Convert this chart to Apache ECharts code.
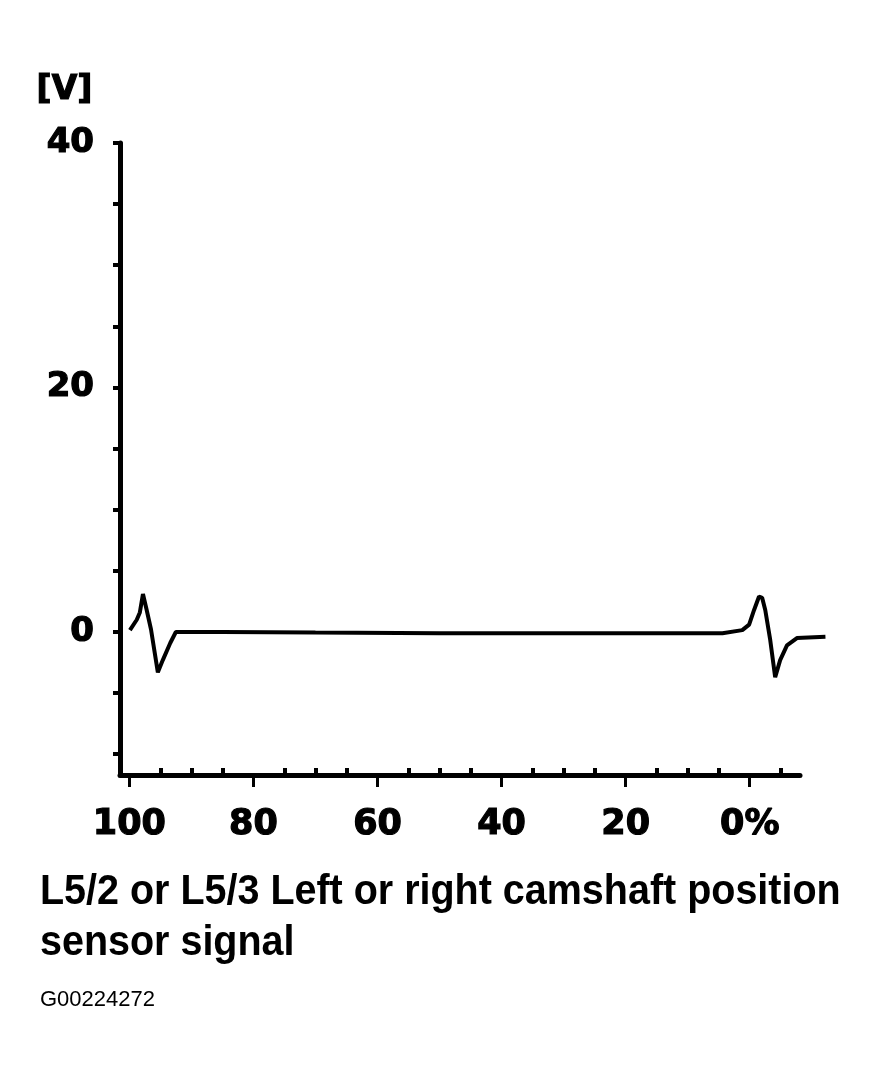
<!DOCTYPE html>
<html>
<head>
<meta charset="utf-8">
<script src="https://cdn.jsdelivr.net/npm/echarts@6/dist/echarts.min.js"></script>
<style>html,body{margin:0;padding:0;background:#fff;}#c{width:874px;height:1084px;}</style>
</head>
<body>
<div id="c"></div>
<script>
// Data
const xPercent = [99.9, 98.8, 98.3, 97.8, 97.2, 96.5, 95.4, 94.6, 93.4, 92.5, 85, 70, 50, 30, 10, 4.4, 1.2, 0.1, -0.7, -1.5, -2.0, -2.5, -3.3, -4.1, -4.9, -6.0, -7.6, -12.2];
const voltage  = [0.16, 1.0, 1.6, 3.1, 1.8, 0.2, -3.3, -2.3, -0.9, 0.0, 0.0, -0.05, -0.1, -0.1, -0.1, -0.1, 0.15, 0.6, 1.8, 2.9, 2.8, 1.8, -0.65, -3.7, -2.3, -1.1, -0.5, -0.4];
const yLabelValues = [0, 20, 40];
const yTickValues = [-10, -5, 0, 5, 10, 15, 20, 25, 30, 35, 40];
const xLabelValues = [100, 80, 60, 40, 20, 0];
const xMinorTicks = [95, 90, 85, 75, 70, 65, 55, 50, 45, 35, 30, 25, 15, 10, 5, -5];
const yUnit = '[V]';
const captionLine1 = 'L5/2 or L5/3 Left or right camshaft position';
const captionLine2 = 'sensor signal';
const figureId = 'G00224272';

// Axis ranges
const X_LEFT = 101.5, X_AXIS_END = -8.1, X_TRACE_END = -12.5;
const Y_MIN = -11.7, Y_MAX = 40;

const chart = echarts.init(document.getElementById('c'), null, {renderer: 'canvas'});
const seriesData = xPercent.map((x, i) => [x, voltage[i]]);
const labelFont = {color: '#000', fontFamily: 'DejaVu Sans', fontWeight: 'bold', textBorderColor: '#000', textBorderWidth: 1.2};

// grid 0 carries the visible axes; grid 1 has the same scale but runs further right so the trace can pass the axis end
const gridLeft = 120, gridRight0 = 74, W = 874;
const pxPerUnit = (W - gridLeft - gridRight0) / (X_LEFT - X_AXIS_END);
const gridRight1 = W - gridLeft - (X_LEFT - X_TRACE_END) * pxPerUnit;

chart.setOption({
  animation: false,
  backgroundColor: '#fff',
  grid: [
    {left: gridLeft, right: gridRight0, top: 143, bottom: 309, containLabel: false},
    {left: gridLeft, right: gridRight1, top: 143, bottom: 309, containLabel: false}
  ],
  xAxis: [{
    gridIndex: 0, type: 'value', inverse: true, min: X_AXIS_END, max: X_LEFT, position: 'bottom',
    axisLine: {show: true, onZero: false, lineStyle: {color: '#000', width: 5}},
    axisTick: {show: true, customValues: xLabelValues, length: 12, lineStyle: {color: '#000', width: 3}},
    axisLabel: Object.assign({customValues: xLabelValues, fontSize: 35, margin: 32,
      formatter: v => v === 0 ? '0%' : String(v)}, labelFont),
    splitLine: {show: false}
  }, {
    gridIndex: 0, type: 'value', inverse: true, min: X_AXIS_END, max: X_LEFT, position: 'bottom',
    axisLine: {show: false, onZero: false},
    axisTick: {show: true, inside: true, customValues: xMinorTicks, length: 7, lineStyle: {color: '#000', width: 4}},
    axisLabel: {show: false},
    splitLine: {show: false}
  }, {
    gridIndex: 1, type: 'value', inverse: true, min: X_TRACE_END, max: X_LEFT, show: false,
    axisLine: {onZero: false}
  }],
  yAxis: [{
    gridIndex: 0, type: 'value', min: Y_MIN, max: Y_MAX, position: 'left',
    axisLine: {show: true, onZero: false, lineStyle: {color: '#000', width: 5}},
    axisTick: {show: true, customValues: yTickValues, length: 7, lineStyle: {color: '#000', width: 4}},
    axisLabel: Object.assign({customValues: yLabelValues, fontSize: 34, margin: 26}, labelFont),
    splitLine: {show: false}
  }, {
    gridIndex: 1, type: 'value', min: Y_MIN, max: Y_MAX, show: false,
    axisLine: {onZero: false}
  }],
  series: [{
    type: 'line', xAxisIndex: 2, yAxisIndex: 1, data: seriesData, showSymbol: false, symbol: 'none',
    clip: false, smooth: false,
    lineStyle: {color: '#000', width: 4}
  }],
  graphic: [
    {type: 'text', left: 36, top: 73, style: {text: yUnit, fill: '#000', font: 'bold 33px "DejaVu Sans"', stroke: '#000', lineWidth: 1.2}},
    {type: 'text', left: 40, top: 871, scaleX: 0.94, style: {text: captionLine1, fill: '#000', font: 'bold 42px "Liberation Sans"'}},
    {type: 'text', left: 40, top: 922, scaleX: 0.94, style: {text: captionLine2, fill: '#000', font: 'bold 42px "Liberation Sans"'}},
    {type: 'text', left: 40, top: 989, style: {text: figureId, fill: '#000', font: '22px "Liberation Sans"'}}
  ]
});
</script>
</body>
</html>
